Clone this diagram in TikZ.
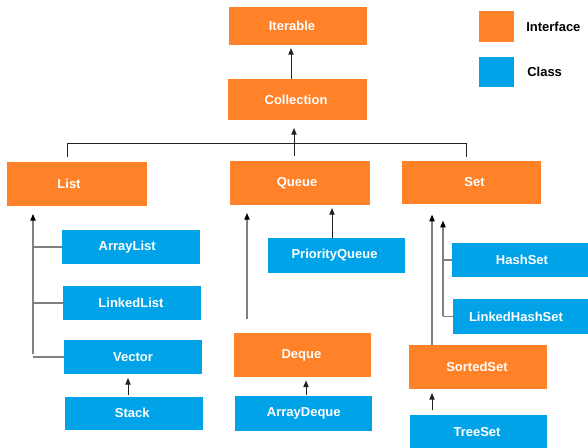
\documentclass[tikz,border=0pt]{standalone}
\usepackage{fontspec}
\setmainfont{Liberation Sans}
\usetikzlibrary{arrows.meta,calc}
\definecolor{ifc}{HTML}{FF8128}
\definecolor{cls}{HTML}{00A3E8}
\definecolor{lnk}{HTML}{222222}
\definecolor{glnk}{HTML}{808080}
\begin{document}
\begin{tikzpicture}[x=0.75pt,y=-0.75pt,
  sz/.style 2 args={minimum width={#1*0.75pt},minimum height={#2*0.75pt}},
  box/.style={inner sep=0pt,outer sep=0pt,text=white,font=\fontsize{9.75}{11}\selectfont\bfseries},
  iface/.style={box,fill=ifc},
  klass/.style={box,fill=cls},
  lbl/.style={text=white,font=\fontsize{9.75}{11}\selectfont\bfseries,inner sep=0pt},
  legtext/.style={text=black,font=\fontsize{9.75}{11}\selectfont\bfseries,inner sep=0pt,anchor=west},
  arr/.style={draw=lnk,line width=0.75pt,-{Triangle[length=5pt,width=4pt]}},
  garr/.style={draw=glnk,line width=0.8pt,-{Triangle[length=5pt,width=4pt,fill=black,color=black]}},
  gline/.style={draw=glnk,line width=0.8pt},
  bline/.style={draw=lnk,line width=0.75pt}]
\useasboundingbox (0,0) rectangle (588,448);
\fill[white] (0,0) rectangle (588,448);

% interfaces
\node[iface,sz={138}{38},label={[lbl,xshift=-4.5pt]center:Iterable}] (iter) at (298,26) {};
\node[iface,sz={139}{41},label={[lbl,xshift=-1.1pt]center:Collection}] (coll) at (297.5,99.5) {};
\node[iface,sz={140}{44},label={[lbl,xshift=-6pt]center:List}] (list) at (77,184) {};
\node[iface,sz={140}{44},label={[lbl,xshift=-2.25pt]center:Queue}] (queue) at (300,183) {};
\node[iface,sz={139}{43},label={[lbl,xshift=2.25pt]center:Set}] (set) at (471.5,182.5) {};
\node[iface,sz={137}{43},label={[lbl,xshift=-1pt]center:Deque}] (deque) at (302.7,355) {};
\node[iface,sz={138}{44},label={[lbl,xshift=-0.75pt]center:SortedSet}] (sorted) at (478,367) {};

% classes
\node[klass,sz={138}{34},label={[lbl,xshift=-2.8pt]center:ArrayList}] (alist) at (131,247) {};
\node[klass,sz={138}{34},label={[lbl,xshift=-0.75pt]center:LinkedList}] (llist) at (132,303) {};
\node[klass,sz={138}{34},label={[lbl]center:Vector}] (vector) at (133,357) {};
\node[klass,sz={138}{33},label={[lbl,xshift=-1.3pt]center:Stack}] (stack) at (134,413) {};
\node[klass,sz={137}{35},label={[lbl,xshift=-1.5pt]center:PriorityQueue}] (pq) at (336.5,255.5) {};
\node[klass,sz={137}{35},label={[lbl]center:ArrayDeque}] (adeque) at (303.8,413.5) {};
\node[klass,sz={136}{34},label={[lbl,xshift=1.5pt]center:HashSet}] (hset) at (520,260) {};
\node[klass,sz={135}{35},label={[lbl,xshift=-3.4pt]center:LinkedHashSet}] (lhset) at (520.5,316.5) {};
\node[klass,sz={137}{34},label={[lbl,xshift=-1.1pt]center:TreeSet}] (tset) at (478.5,432) {};

% legend
\node[box,fill=ifc,sz={35}{31}] (legi) at (496.5,26.5) {};
\node[box,fill=cls,sz={35}{30}] (legc) at (496.5,72) {};
\node[legtext] (legit) at (526,27) {Interface};
\node[legtext] (legct) at (527,72) {Class};

% Collection -> Iterable
\draw[arr,shorten >=2.3pt] ($(coll.north)+(-6.5,0)$) -- ($(iter.south)+(-7,0)$);
% bus
\draw[bline] ($(list.north)+(-10,-5)$) -- ($(list.north)+(-10,-18)$) -- ($(set.north)+(-5.5,-17)$) -- ($(set.north)+(-5.5,-4)$);
\draw[arr,shorten <=3.75pt,shorten >=6pt] ($(queue.north)+(-6,0)$) -- ($(coll.south)+(-3.5,0)$);
% List tree
\draw[garr,shorten >=6pt] ($(list.south)+(-44,148)$) -- ($(list.south)+(-44,0)$);
\draw[gline] (alist.west) -- ($(alist.west)+(-29,0)$);
\draw[gline] (llist.west) -- ($(llist.west)+(-30,0)$);
\draw[gline] (vector.west) -- ($(vector.west)+(-31,0)$);
% Stack -> Vector
\draw[arr,shorten <=1.5pt,shorten >=3pt] ($(stack.north)+(-6,0)$) -- ($(vector.south)+(-5,0)$);
% Deque -> Queue
\draw[garr,shorten <=11pt,shorten >=6pt] ($(deque.north)+(-55.7,0)$) -- ($(queue.south)+(-53,0)$);
% PriorityQueue -> Queue
\draw[arr,shorten >=2.3pt] ($(pq.north)+(-4.5,0)$) -- ($(queue.south)+(32,0)$);
% ArrayDeque -> Deque
\draw[arr,shorten <=0.5pt,shorten >=3pt] ($(adeque.north)+(2.2,0)$) -- ($(deque.south)+(3.3,0)$);
% SortedSet -> Set
\draw[garr,shorten >=8pt] ($(sorted.north)+(-46,0)$) -- ($(set.south)+(-39.5,0)$);
% HashSet tree -> Set
\draw[garr,shorten >=12.5pt] ($(lhset.west)+(-10,0)$) -- ($(set.south)+(-28.5,0)$);
\draw[gline] (hset.west) -- ($(hset.west)+(-9.5,0)$);
\draw[gline] (lhset.west) -- ($(lhset.west)+(-10,0)$);
% TreeSet -> SortedSet
\draw[arr,shorten <=3.5pt,shorten >=3pt] ($(tset.north)+(-46.5,0)$) -- ($(sorted.south)+(-46,0)$);
\end{tikzpicture}
\end{document}
